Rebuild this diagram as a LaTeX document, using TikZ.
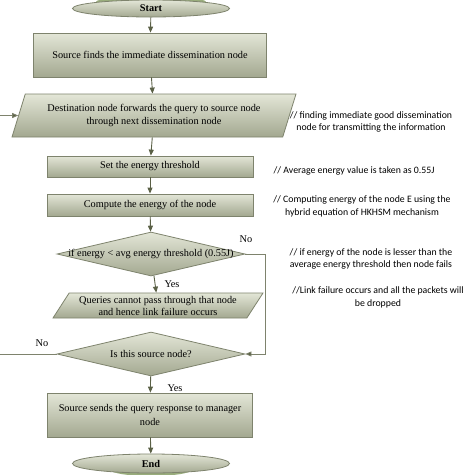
\documentclass[tikz,border=0pt]{standalone}
\usepackage{fontspec}
\setmainfont{Liberation Serif}
\newfontfamily\notefont{Carlito}
\usetikzlibrary{shapes.geometric}
\usetikzlibrary{arrows.meta}
\usetikzlibrary{calc}
\usetikzlibrary{positioning}

\definecolor{boxtop}{HTML}{E3E6D7}
\definecolor{boxbot}{HTML}{A3A890}
\definecolor{boxline}{HTML}{7E836D}
\definecolor{arrowcol}{HTML}{5A6046}
\definecolor{glow}{HTML}{6E8A45}

\begin{document}
\begin{tikzpicture}[
    x = 1pt, y = -1pt,
    every node/.style = {font=\fontsize{10.3}{13.5}\selectfont},
    box/.style = {
      draw=boxline, line width=0.8pt, top color=boxtop, bottom color=boxbot,
      inner sep=0pt, align=center,
    },
    process/.style = {box, rectangle, minimum width=206, minimum height=22},
    io/.style = {box, trapezium, trapezium stretches body},
    decision/.style = {box, diamond, minimum width=188, minimum height=44},
    terminal/.style = {box, ellipse, minimum width=157, minimum height=17,
      font=\fontsize{10.3}{12}\selectfont\bfseries},
    note/.style = {font=\notefont\fontsize{9.8}{12.5}\selectfont, align=center},
  ]
  \useasboundingbox (0,0) rectangle (474,475);

  % glow round the two ends
  \fill[glow, opacity=0.7] (151,2) ellipse [x radius=55, y radius=6];
  \fill[glow, opacity=0.7] (151,470) ellipse [x radius=40, y radius=6];

  \node[terminal] (start) at (151,8.5) {Start};
  \node[process, minimum width=233, minimum height=44] (src) at (150,55)
    {Source finds the immediate dissemination node};
  \node[io, trapezium left angle=60, trapezium right angle=120,
    minimum width=284, minimum height=43] (dest) at (154,115.5)
    {Destination node forwards the query to source node\\through next dissemination node};
  \node[process, minimum height=21] (set) at (150,166.5) {Set the energy threshold};
  \node[process] (comp) at (150,205) {Compute the energy of the node};
  \node[decision, label={center:if energy < avg energy threshold (0.55J)}] (dec1) at (151,254) {};
  \node[io, trapezium left angle=50, trapezium right angle=130,
    minimum width=210, minimum height=25, font=\fontsize{10.3}{12}\selectfont] (fail) at (158,305.5)
    {Queries cannot pass through that node\\and hence link failure occurs};
  \node[decision, label={center:Is this source node?}] (dec2) at (151,354) {};
  \node[process, minimum width=205, minimum height=44] (resp) at (150,415)
    {Source sends the query response to manager\\node};
  \node[terminal, minimum height=19] (end) at (151,463.5) {End};

  % branch labels
  \node (yes1) at (172,284) {Yes};
  \node (no1) at (246,239) {No};
  \node (no2) at (42,343) {No};
  \node (yes2) at (175,388) {Yes};

  \coordinate (turnR) at (265,254);
  \coordinate (turnL) at (-6,354);

  \begin{scope}[draw=arrowcol, line width=0.9pt,
      -{Triangle[length=6pt, width=5pt, fill=arrowcol]}]
    \draw (start) -- (src);
    \draw (src) -- (dest);
    \draw (dest) -- (set);
    \draw (set) -- (comp);
    \draw (comp) -- (dec1);
    \draw (dec1) -- (fail);
    \draw (dec2) -- (resp);
    \draw (resp) -- (end);
  \end{scope}

  \begin{scope}[draw=boxline, line width=0.8pt,
      -{Triangle[length=6pt, width=5pt, fill=arrowcol]}]
    \draw (dec1.east) -- (turnR) |- (dec2.east);
    \draw (dec2.west) -- (turnL) |- (dest.left side);
  \end{scope}

  % comments on the right
  \node[note] (c1) at (371,122)
    {// finding immediate good dissemination\\node for transmitting the information};
  \node[note] (c2) at (354,171) {// Average energy value is taken as 0.55J};
  \node[note] (c3) at (362,206.5)
    {// Computing energy of the node E using the\\hybrid equation of HKHSM mechanism};
  \node[note] (c4) at (371,259)
    {// if energy of the node is lesser than the\\average energy threshold then node fails};
  \node[note] (c5) at (378,297.5)
    {//Link failure occurs and all the packets will\\be dropped};

\end{tikzpicture}
\end{document}
